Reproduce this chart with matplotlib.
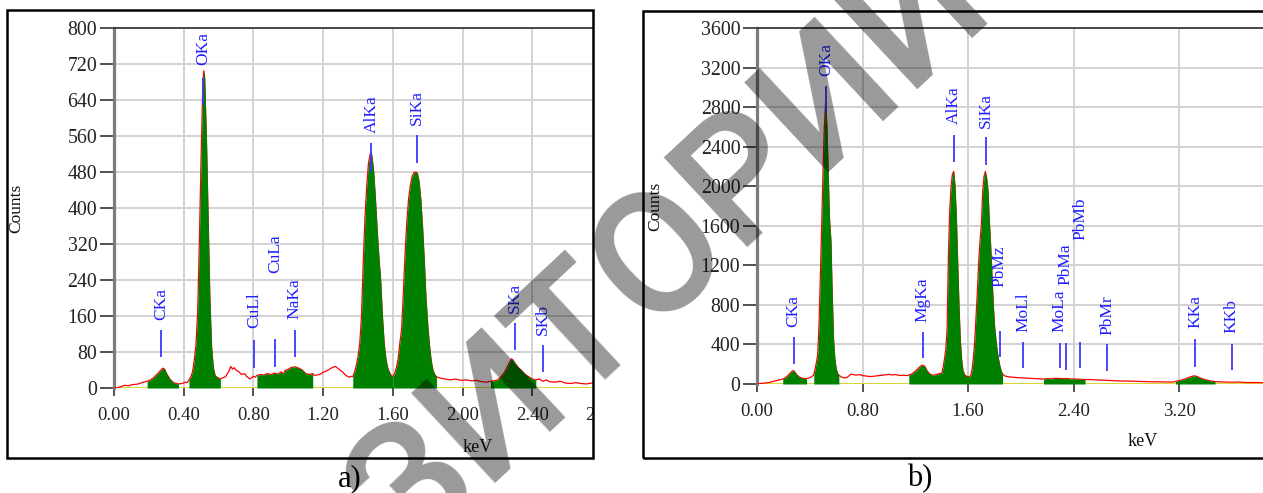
import matplotlib
matplotlib.use('Agg')
import matplotlib.pyplot as plt
from matplotlib.patches import Rectangle
from matplotlib.transforms import Bbox, TransformedBbox, offset_copy
import numpy as np

plt.rcParams['font.family'] = ['Liberation Serif', 'DejaVu Serif']

W, H = 1263, 493

# ---------------- Panel a data (keV, counts) ----------------
spec_a = [
    (0.00, 0), (0.02, 1), (0.04, 3), (0.06, 6), (0.08, 5), (0.10, 7), (0.12, 8), (0.14, 9), (0.16, 12), (0.18, 14),
    (0.19, 15), (0.21, 18), (0.23, 24), (0.25, 32), (0.27, 40), (0.28, 44), (0.29, 42), (0.30, 33), (0.32, 20),
    (0.34, 12), (0.36, 10), (0.37, 9),
    (0.39, 10), (0.41, 13), (0.42, 12), (0.43, 18),
    (0.44, 24), (0.45, 35), (0.46, 60), (0.47, 95), (0.48, 170), (0.49, 330), (0.50, 520), (0.51, 680),
    (0.515, 705), (0.52, 690), (0.53, 560), (0.54, 380), (0.55, 200), (0.56, 90), (0.57, 45), (0.58, 28),
    (0.59, 24), (0.60, 22), (0.61, 20),
    (0.62, 22), (0.64, 25), (0.66, 38), (0.67, 48), (0.68, 42), (0.69, 45), (0.70, 40), (0.72, 35), (0.73, 30),
    (0.75, 32), (0.76, 26), (0.78, 20), (0.80, 26), (0.81, 24),
    (0.82, 28), (0.84, 30), (0.86, 29), (0.88, 32), (0.90, 30), (0.92, 33), (0.94, 31), (0.96, 36), (0.97, 30),
    (0.98, 38), (1.00, 42), (1.02, 46), (1.04, 47), (1.06, 44), (1.08, 40), (1.10, 32), (1.12, 30), (1.14, 32),
    (1.15, 28), (1.18, 30), (1.20, 35), (1.22, 38), (1.25, 45), (1.27, 48), (1.29, 42), (1.31, 36), (1.33, 28),
    (1.35, 24), (1.36, 26),
    (1.37, 25), (1.38, 35), (1.39, 50), (1.40, 70), (1.41, 100), (1.42, 160), (1.43, 280), (1.44, 380),
    (1.45, 450), (1.46, 500), (1.47, 520), (1.475, 525), (1.48, 515), (1.49, 480), (1.50, 420), (1.51, 350),
    (1.52, 290), (1.53, 240), (1.54, 160), (1.55, 100), (1.56, 65), (1.57, 45), (1.58, 35), (1.59, 28), (1.60, 25),
    (1.61, 32), (1.62, 45), (1.63, 65), (1.64, 100), (1.65, 130), (1.66, 210), (1.67, 300), (1.68, 370),
    (1.69, 420), (1.70, 450), (1.71, 470), (1.72, 478), (1.73, 480), (1.74, 478), (1.75, 460), (1.76, 420),
    (1.77, 360), (1.78, 285), (1.79, 200), (1.80, 140), (1.81, 95), (1.82, 60), (1.83, 40), (1.84, 30), (1.85, 25),
    (1.87, 22), (1.90, 20), (1.93, 18), (1.96, 20), (1.99, 17), (2.02, 18), (2.05, 16), (2.08, 17), (2.11, 14),
    (2.14, 13),
    (2.16, 15), (2.18, 16), (2.20, 18), (2.22, 25), (2.24, 35), (2.26, 50), (2.27, 58), (2.28, 65), (2.29, 62),
    (2.30, 55), (2.32, 45), (2.34, 38), (2.36, 30), (2.38, 25), (2.40, 20), (2.42, 18),
    (2.44, 20), (2.46, 15), (2.48, 18), (2.50, 14), (2.53, 13), (2.56, 15), (2.59, 11), (2.62, 10), (2.65, 12),
    (2.68, 10), (2.71, 9), (2.74, 11), (2.76, 10),
]
roi_a = [(0.19, 0.37), (0.43, 0.61), (0.82, 1.14), (1.37, 1.60), (1.60, 1.85), (2.16, 2.42)]
names_a = ['CKa', 'OKa', 'CuLl', 'CuLa', 'NaKa', 'AlKa', 'SiKa', 'SKa', 'SKb']
pos_a = [0.27, 0.51, 0.805, 0.925, 1.038, 1.477, 1.737, 2.30, 2.46]
line_lo_a = [69, 630, 45, 47, 70, 480, 500, 84, 36]
line_hi_a = [129, 690, 107, 109, 129, 544, 562, 144, 96]
text_y_a = [151, 718, 133, 255, 153, 567, 584, 167, 118]
xticks_a = [0.00, 0.40, 0.80, 1.20, 1.60, 2.00, 2.40]
yticks_a = [0, 80, 160, 240, 320, 400, 480, 560, 640, 720, 800]

# ---------------- Panel b data (keV, counts) ----------------
spec_b = [
    (0.00, 0), (0.03, 5), (0.06, 10), (0.09, 15), (0.12, 25), (0.15, 35), (0.18, 45), (0.195, 50),
    (0.21, 60), (0.23, 80), (0.25, 110), (0.27, 135), (0.28, 132), (0.30, 95), (0.32, 70), (0.34, 60),
    (0.36, 55), (0.375, 55),
    (0.39, 60), (0.41, 70), (0.43, 90),
    (0.44, 150), (0.45, 220), (0.46, 300), (0.47, 600), (0.48, 1100), (0.49, 1600), (0.50, 2150), (0.51, 2600),
    (0.52, 2850), (0.53, 2600), (0.54, 2100), (0.55, 1650), (0.56, 1450), (0.57, 900), (0.58, 450), (0.59, 250),
    (0.60, 150), (0.61, 110), (0.62, 90),
    (0.64, 70), (0.66, 62), (0.68, 65), (0.70, 85), (0.71, 100), (0.73, 95), (0.75, 90), (0.78, 95), (0.80, 85),
    (0.83, 80), (0.86, 75), (0.88, 78), (0.91, 82), (0.94, 88), (0.97, 92), (1.00, 98), (1.02, 92), (1.05, 95),
    (1.08, 86), (1.11, 88), (1.14, 85),
    (1.15, 90), (1.17, 100), (1.20, 130), (1.23, 170), (1.25, 190), (1.27, 180), (1.29, 130), (1.31, 100),
    (1.33, 90), (1.35, 92), (1.37, 100), (1.39, 108), (1.40, 110), (1.41, 170), (1.42, 250), (1.43, 350),
    (1.44, 550), (1.45, 1300), (1.46, 1750), (1.47, 2000), (1.48, 2120), (1.49, 2150), (1.50, 2000), (1.51, 1700),
    (1.52, 1250), (1.53, 800), (1.54, 450), (1.55, 250), (1.56, 140), (1.57, 100), (1.58, 85), (1.59, 78),
    (1.60, 75), (1.61, 72),
    (1.62, 90), (1.63, 150), (1.64, 280), (1.65, 445), (1.66, 700), (1.67, 950), (1.68, 1250), (1.69, 1450),
    (1.70, 1620), (1.71, 1950), (1.72, 2100), (1.73, 2150), (1.74, 2080), (1.75, 1950), (1.76, 1650), (1.77, 1400),
    (1.78, 1100), (1.79, 800), (1.80, 580), (1.81, 445), (1.82, 330), (1.83, 250), (1.84, 180), (1.85, 130),
    (1.86, 100),
    (1.88, 80), (1.91, 72), (1.94, 68), (1.97, 65), (2.00, 62), (2.03, 60), (2.06, 58), (2.09, 56), (2.12, 54),
    (2.15, 52),
    (2.17, 50), (2.20, 55), (2.23, 52), (2.26, 58), (2.29, 56), (2.32, 54), (2.35, 55), (2.38, 50), (2.41, 50),
    (2.44, 48), (2.47, 45), (2.485, 45),
    (2.52, 45), (2.56, 42), (2.60, 40), (2.64, 38), (2.68, 35), (2.72, 32), (2.76, 30), (2.80, 30), (2.85, 28),
    (2.90, 25), (2.95, 25), (3.00, 22), (3.05, 22), (3.10, 20), (3.15, 20),
    (3.17, 25), (3.20, 35), (3.23, 45), (3.26, 60), (3.29, 75), (3.31, 82), (3.33, 78), (3.36, 60), (3.39, 45),
    (3.42, 35), (3.45, 28), (3.47, 25),
    (3.50, 22), (3.55, 20), (3.60, 18), (3.65, 20), (3.70, 15), (3.75, 15), (3.80, 14), (3.85, 14),
]
roi_b = [(0.195, 0.375), (0.43, 0.62), (1.15, 1.86), (2.17, 2.485), (3.17, 3.47)]
names_b = ['CKa', 'OKa', 'MgKa', 'AlKa', 'SiKa', 'PbMz', 'MoLl', 'MoLa', 'PbMa', 'PbMb', 'PbMr', 'KKa', 'KKb']
pos_b = [0.278, 0.521, 1.256, 1.491, 1.734, 1.84, 2.017, 2.295, 2.34, 2.447, 2.654, 3.318, 3.596]
line_lo_b = [202, 2740, 260, 2241, 2214, 270, 159, 159, 141, 159, 135, 175, 141]
line_hi_b = [472, 3013, 529, 2518, 2500, 539, 428, 411, 411, 421, 401, 452, 404]
text_y_b = [573, 3114, 630, 2629, 2585, 984, 529, 529, 1001, 1456, 495, 563, 513]
xticks_b = [0.00, 0.80, 1.60, 2.40, 3.20]
yticks_b = [0, 400, 800, 1200, 1600, 2000, 2400, 2800, 3200, 3600]

TICK_C = '#222222'


def fx(px):
    return px / W


def fy(py):
    return 1 - py / H


def draw_panel(ax, spec, rois, xmax, ymax, xticks, yticks, names, pos, lo, hi, ty):
    e = np.array([p[0] for p in spec])
    c = np.array([p[1] for p in spec])
    ax.set_xlim(0, xmax)
    ax.set_ylim(0, ymax)
    ax.set_xticks(xticks)
    ax.set_xticklabels([f'{t:.2f}' for t in xticks])
    ax.set_yticks(yticks)
    ax.set_yticklabels([str(v) for v in yticks])
    ax.grid(True, color='#d2d2d2', lw=1.4)
    ax.set_axisbelow(True)
    ax.axhline(0, color='#dcdc00', lw=1.8, zorder=2.5)
    ax.plot(e, c, color='#ff0000', lw=0.9, zorder=3)
    for s, t in rois:
        m = (e >= s - 1e-9) & (e <= t + 1e-9)
        ax.fill_between(e[m], 0, c[m], color='#008000', lw=0, zorder=4)
    for n, x, a, b, y in zip(names, pos, lo, hi, ty):
        ax.plot([x, x], [a, b], color='#3a3aff', lw=1.3, zorder=5, solid_capstyle='butt')
        ax.text(x, y, n, rotation=90, ha='center', va='bottom', color='#1f1fff',
                fontsize=12.5, zorder=6)
    for s in ['right', 'bottom']:
        ax.spines[s].set_visible(False)
    ax.spines['left'].set_color('#7c7c7c')
    ax.spines['left'].set_linewidth(2.3)
    ax.spines['top'].set_color('#3a3a3a')
    ax.spines['top'].set_linewidth(1.3)
    ax.tick_params(axis='x', length=5.8, width=1.1, color=TICK_C, pad=8, labelsize=13.5,
                   labelcolor=TICK_C, direction='out')
    ax.tick_params(axis='y', length=10, width=1.1, color=TICK_C, pad=2, labelsize=14.3,
                   labelcolor=TICK_C, direction='out')
    ax.set_facecolor('white')


fig = plt.figure(figsize=(W / 100, H / 100), dpi=100)
fig.patch.set_facecolor('white')

# panel a
ax_a = fig.add_axes([fx(114), fy(388), fx(593) - fx(114), fy(28) - fy(388)])
draw_panel(ax_a, spec_a, roi_a, (593 - 114) / 174.3, 800, xticks_a, yticks_a,
           names_a, pos_a, line_lo_a, line_hi_a, text_y_a)
# partially visible tick label cut by the frame
t_trans = offset_copy(ax_a.get_xaxis_transform(), fig=fig, y=-(5.8 + 8), units='points')
t = ax_a.text(2.80, 0, '2.80', transform=t_trans, ha='center', va='top', fontsize=13.5,
              color=TICK_C)
t.set_clip_box(TransformedBbox(Bbox([[0, 0], [fx(593), 1]]), fig.transFigure))
t.set_clip_on(True)

# panel b
ax_b = fig.add_axes([fx(757), fy(384), fx(1263) - fx(757), fy(28) - fy(384)])
draw_panel(ax_b, spec_b, roi_b, (1263 - 757) / 132.0, 3600, xticks_b, yticks_b,
           names_b, pos_b, line_lo_b, line_hi_b, text_y_b)

# frames
fig.patches.append(Rectangle((fx(7), fy(458)), fx(593) - fx(7), fy(10) - fy(458),
                             transform=fig.transFigure, fill=False, ec='black', lw=1.8, zorder=10))
fig.patches.append(Rectangle((fx(643), fy(458)), fx(1280) - fx(643), fy(11) - fy(458),
                             transform=fig.transFigure, fill=False, ec='black', lw=1.8, zorder=10))

# axis titles and panel letters
fig.text(fx(16.5), fy(208), 'Counts', rotation=90, ha='center', va='center', fontsize=12.5, color='#111')
fig.text(fx(655), fy(206), 'Counts', rotation=90, ha='center', va='center', fontsize=12.5, color='#111')
fig.text(fx(478), fy(448), 'keV', ha='center', va='center', fontsize=13, color='#111')
fig.text(fx(1143), fy(442), 'keV', ha='center', va='center', fontsize=13, color='#111')
fig.text(fx(350), fy(479), 'a)', ha='center', va='center', fontsize=22, color='black')
fig.text(fx(920), fy(479), 'b)', ha='center', va='center', fontsize=22, color='black')

# watermark
fig.text(fx(505), fy(398), 'РЕПОЗИТОРИЙ', rotation=43, ha='center', va='center',
         fontsize=124, fontweight=500, family=['Roboto', 'Liberation Sans', 'DejaVu Sans'],
         color='black', alpha=0.4, zorder=100)

fig.savefig('out.png', dpi=100, facecolor='white')
